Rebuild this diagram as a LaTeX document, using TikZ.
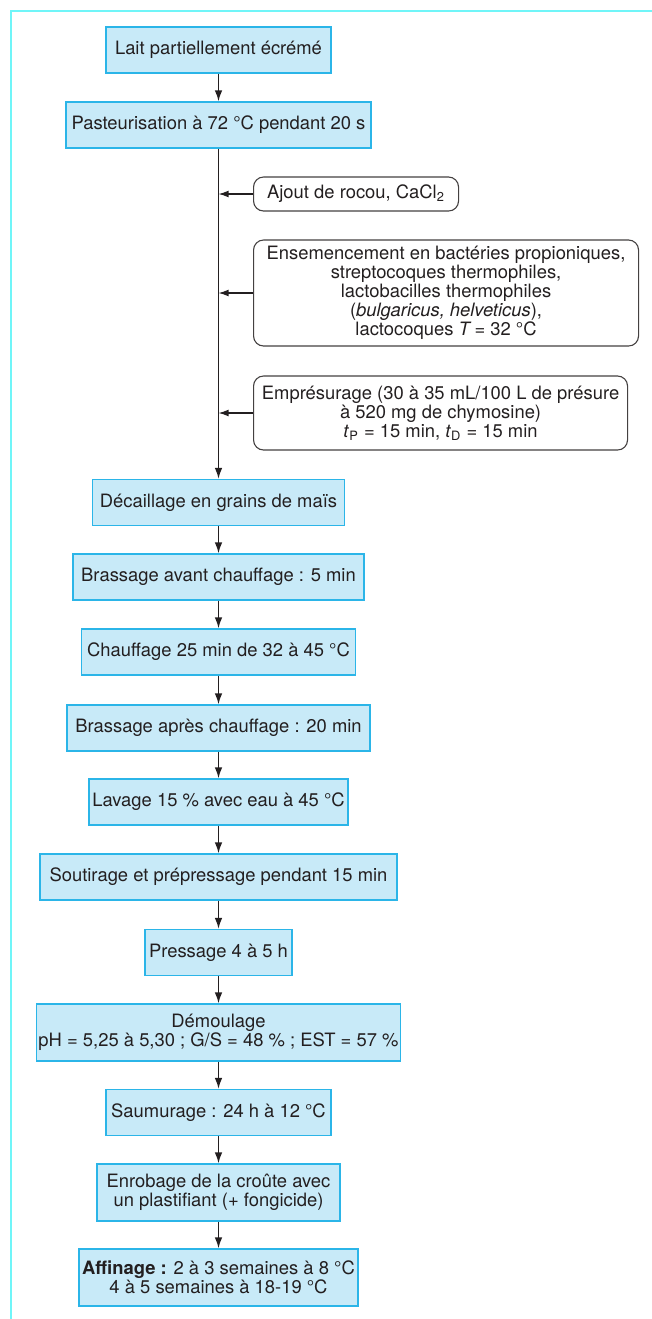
\documentclass[tikz,border=0pt]{standalone}
\usepackage{fontspec}
\setmainfont{TeX Gyre Heros}
\usepackage{xcolor}
\usepackage{tikz}
\usetikzlibrary{arrows.meta, positioning, calc}

\definecolor{stepfill}{HTML}{C8EAF8}
\definecolor{stepline}{HTML}{2BB5E8}
\definecolor{framecol}{HTML}{70F5F8}
\definecolor{inkcol}{HTML}{231F20}

\begin{document}
\begin{tikzpicture}[
    x=0.5pt, y=-0.5pt,
    stepbox/.style={draw=stepline, fill=stepfill, line width=0.6pt, rectangle, align=center,
      inner xsep=1pt, inner ysep=0pt, minimum height=23pt, text=inkcol,
      font=\fontsize{9.2}{9.5}\selectfont},
    twoline/.style={stepbox, minimum height=28.5pt},
    addbox/.style={draw=inkcol!85, rectangle, rounded corners=5pt, line width=0.55pt, align=center,
      inner xsep=1pt, inner ysep=0pt, anchor=west, text=inkcol, font=\fontsize{9.2}{9.5}\selectfont},
    flow/.style={-{Latex[length=5.5pt, width=3.8pt]}, line width=0.8pt, inkcol},
    feed/.style={-{Latex[length=5pt, width=3.4pt]}, line width=0.6pt, inkcol},
  ]
  \useasboundingbox (0,0) rectangle (652,1319);
  \draw[framecol, line width=1pt] (11,1319) -- (11,11) -- (652,11);

  % Nodes
  \node[stepbox, minimum width=112.5pt] (lait) at (218.5,50) {Lait partiellement écrémé};
  \node[stepbox, minimum width=152.5pt] (past) at (218.5,125) {Pasteurisation à 72 °C pendant 20 s};

  \node[addbox, minimum width=102.5pt, minimum height=17pt] (rocou) at (253,194) {Ajout de rocou, CaCl\textsubscript{2}};
  \node[addbox, minimum width=192.5pt, minimum height=53pt] (ensem) at (253,293)
    {Ensemencement en bactéries propioniques,\\streptocoques thermophiles,\\lactobacilles thermophiles\\(\textit{bulgaricus, helveticus}),\\lactocoques \textit{T}\,= 32 °C};
  \node[addbox, minimum width=187pt, minimum height=37pt] (presure) at (253,413)
    {Emprésurage (30 à 35 mL/100 L de présure\\à 520 mg de chymosine)\\\textit{t}\textsubscript{P} = 15 min, \textit{t}\textsubscript{D} = 15 min};

  \node[stepbox, minimum width=126pt] (decail) at (218.5,502.5) {Décaillage en grains de maïs};
  \node[stepbox, minimum width=145.5pt] (bravant) at (218.5,577) {Brassage avant chauffage : 5 min};
  \node[stepbox, minimum width=137pt] (chauf) at (218.5,652) {Chauffage 25 min de 32 à 45 °C};
  \node[stepbox, minimum width=151.5pt] (brapres) at (218.5,728) {Brassage après chauffage : 20 min};
  \node[stepbox, minimum width=129.5pt] (lavage) at (218.5,802) {Lavage 15 \% avec eau à 45 °C};
  \node[stepbox, minimum width=178.5pt] (soutir) at (218.5,877) {Soutirage et prépressage pendant 15 min};
  \node[stepbox, minimum width=73.5pt] (press) at (218.5,952.5) {Pressage 4 à 5 h};
  \node[twoline, minimum width=182pt] (demoul) at (218.5,1032.5) {Démoulage\\pH = 5,25 à 5,30 ; G/S = 48 \% ; EST = 57 \%};
  \node[stepbox, minimum width=112.5pt] (saum) at (218.5,1112.5) {Saumurage : 24 h à 12 °C};
  \node[twoline, minimum width=121.5pt] (enrob) at (218.5,1192.5) {Enrobage de la croûte avec\\un plastifiant (+ fongicide)};
  \node[twoline, minimum width=139.5pt] (affin) at (218.5,1277.5) {\textbf{Affinage :} 2 à 3 semaines à 8 °C\\4 à 5 semaines à 18-19 °C};

  % Connections
  \draw[flow] (lait) -- (past);
  \draw[flow] (past) -- (decail);
  \draw[feed] (rocou.west) -- (rocou.west -| past.south);
  \draw[feed] (ensem.west) -- (ensem.west -| past.south);
  \draw[feed] (presure.west) -- (presure.west -| past.south);
  \draw[flow] (decail) -- (bravant);
  \draw[flow] (bravant) -- (chauf);
  \draw[flow] (chauf) -- (brapres);
  \draw[flow] (brapres) -- (lavage);
  \draw[flow] (lavage) -- (soutir);
  \draw[flow] (soutir) -- (press);
  \draw[flow] (press) -- (demoul);
  \draw[flow] (demoul) -- (saum);
  \draw[flow] (saum) -- (enrob);
  \draw[flow] (enrob) -- (affin);
\end{tikzpicture}
\end{document}
